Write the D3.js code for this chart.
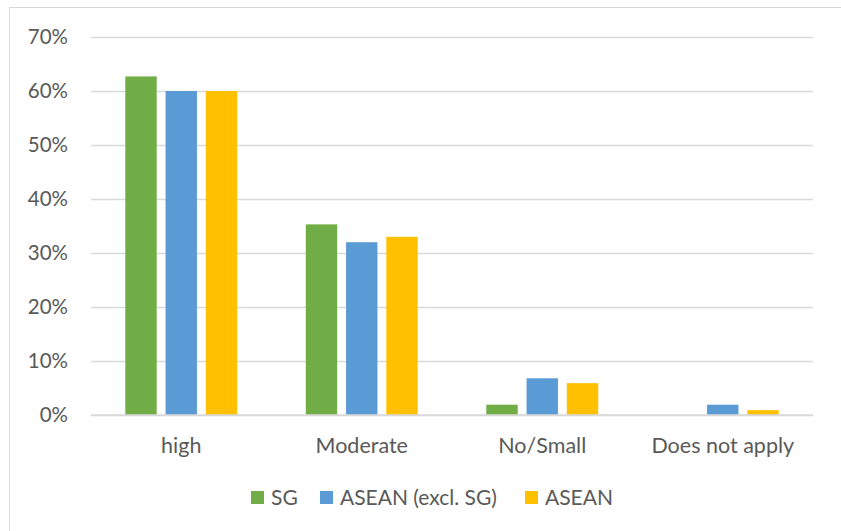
<!DOCTYPE html>
<html>
<head>
<meta charset="utf-8">
<script src="https://cdn.jsdelivr.net/npm/d3@7"></script>
<style>
  html, body { margin: 0; padding: 0; background: #fff; }
  svg { display: block; }
  text { font-family: Lato, "Open Sans", sans-serif; fill: #595959; }
</style>
</head>
<body>
<svg id="chart" width="841" height="531"></svg>
<script>
// Survey response shares by category
const categories = ["high", "Moderate", "No/Small", "Does not apply"];
const seriesNames = ["SG", "ASEAN (excl. SG)", "ASEAN"];
const sgValues = [0.627, 0.353, 0.019, 0.0];
const aseanExclValues = [0.60, 0.32, 0.068, 0.019];
const aseanValues = [0.60, 0.33, 0.059, 0.009];
const seriesColors = ["#70ad47", "#5b9bd5", "#ffc000"];
const yTicks = [0, 0.1, 0.2, 0.3, 0.4, 0.5, 0.6, 0.7];

const series = [sgValues, aseanExclValues, aseanValues].map((vals, i) => ({
  name: seriesNames[i], color: seriesColors[i], values: vals
}));

const svg = d3.select("#chart");
const W = 841, H = 531;
const plot = { left: 91, right: 813, top: 37, bottom: 415 };
const FONT = "Lato, 'Open Sans', sans-serif";

// chart frame
svg.append("rect")
  .attr("x", 9.5).attr("y", 7.5)
  .attr("width", W + 20).attr("height", H + 20)
  .attr("fill", "#fff").attr("stroke", "#d9d9d9").attr("stroke-width", 1);

const x = d3.scaleBand().domain(categories).range([plot.left, plot.right]).paddingInner(0).paddingOuter(0);
const y = d3.scaleLinear().domain([0, 0.7]).range([plot.bottom, plot.top]);

// inner band: 3 bars with small gaps, centered in each category
const groupWidth = x.bandwidth() * 0.62;
const x1 = d3.scaleBand().domain(seriesNames).range([0, groupWidth]).paddingInner(0.22);

// gridlines and y labels
const yAxis = d3.axisLeft(y).tickValues(yTicks).tickFormat(d3.format(".0%"))
  .tickSize(-(plot.right - plot.left)).tickPadding(23);
const gy = svg.append("g").attr("transform", `translate(${plot.left},0)`).call(yAxis);
gy.select(".domain").remove();
gy.selectAll(".tick line").attr("stroke", "#d9d9d9").attr("stroke-width", 1.3);
gy.selectAll(".tick text").attr("font-size", 20.5).attr("fill", "#595959")
  .style("font-family", FONT);

// bars
const groups = svg.append("g").selectAll("g").data(categories).join("g")
  .attr("transform", d => `translate(${x(d) + (x.bandwidth() - groupWidth) / 2},0)`);
groups.selectAll("rect")
  .data((c, ci) => series.map(s => ({ name: s.name, color: s.color, v: s.values[ci] })))
  .join("rect")
  .attr("x", d => x1(d.name))
  .attr("width", x1.bandwidth())
  .attr("y", d => y(d.v))
  .attr("height", d => y(0) - y(d.v))
  .attr("fill", d => d.color);

// baseline
svg.append("line").attr("x1", plot.left).attr("x2", plot.right)
  .attr("y1", y(0)).attr("y2", y(0)).attr("stroke", "#d9d9d9").attr("stroke-width", 1.3);

// category labels
const xAxis = d3.axisBottom(x).tickSize(0).tickPadding(23);
const gx = svg.append("g").attr("transform", `translate(0,${plot.bottom})`).call(xAxis);
gx.select(".domain").remove();
gx.selectAll(".tick text").attr("font-size", 21.5).attr("fill", "#595959")
  .style("font-family", FONT);

// legend
const legendItems = [
  { name: seriesNames[0], color: seriesColors[0], x: 251 },
  { name: seriesNames[1], color: seriesColors[1], x: 320 },
  { name: seriesNames[2], color: seriesColors[2], x: 525 }
];
const lg = svg.append("g").selectAll("g").data(legendItems).join("g")
  .attr("transform", d => `translate(${d.x},491)`);
lg.append("rect").attr("width", 13).attr("height", 13).attr("fill", d => d.color);
lg.append("text").attr("x", 20).attr("y", 14).attr("font-size", 21).text(d => d.name);
</script>
</body>
</html>
